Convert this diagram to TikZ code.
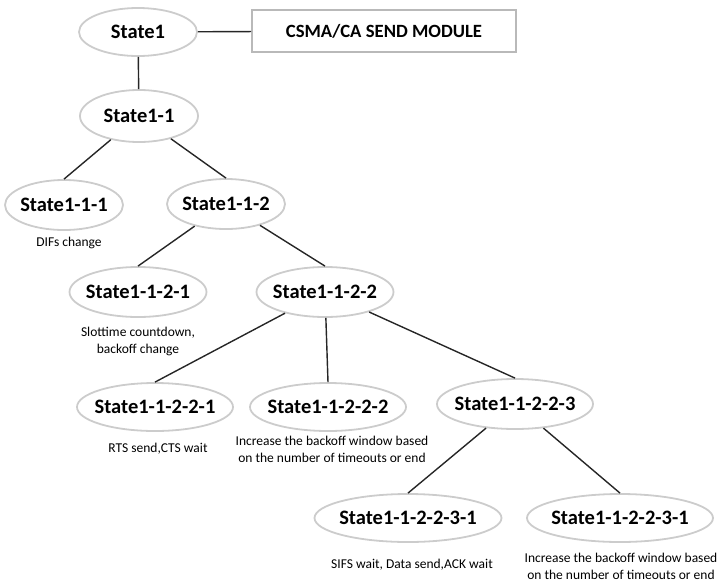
\documentclass[tikz,border=0pt]{standalone}
\usepackage{fontspec}
\setmainfont{Carlito}
\usetikzlibrary{shapes.geometric}

\begin{document}
\begin{tikzpicture}[x=1pt,y=-1pt,
  state/.style={ellipse,draw=gray!40,line width=1.8pt,inner xsep=-12pt,inner ysep=0pt,
    minimum width=118pt,minimum height=50pt,font=\fontsize{20.5}{24}\selectfont\bfseries},
  note/.style={align=center,font=\fontsize{13.5}{17}\selectfont},
  link/.style={line width=1.4pt,black!85}]
  \useasboundingbox (0,0) rectangle (718,582);
  % top of the tree
  \node[state,minimum height=48pt] (s1) at (138,32) {State1};
  \node[draw=gray!55,line width=1.8pt,minimum width=264pt,minimum height=42pt,
    font=\fontsize{18.7}{22}\selectfont\bfseries] (mod) at (384,31) {CSMA/CA SEND MODULE};
  \node[state,minimum height=52pt] (s11) at (139,116) {State1-1};
  \node[state] (s111) at (64,205) {State1-1-1};
  \node[state] (s112) at (226,204) {State1-1-2};
  \node[state,minimum width=137pt] (s1121) at (138,292) {State1-1-2-1};
  \node[state,minimum width=137pt] (s1122) at (325,292) {State1-1-2-2};
  % third level
  \node[state,minimum width=156pt,minimum height=48pt] (s11221) at (155,407) {State1-1-2-2-1};
  \node[state,minimum width=156pt,minimum height=48pt] (s11222) at (328,407) {State1-1-2-2-2};
  \node[state,minimum width=156pt] (s11223) at (515,404) {State1-1-2-2-3};
  \node[state,minimum width=187pt,minimum height=48pt] (s112231) at (408,518) {State1-1-2-2-3-1};
  \node[state,minimum width=186pt,minimum height=48pt] (s112232) at (620,518) {State1-1-2-2-3-1};
  % descriptions
  \node[note] (d111) at (69,243) {DIFs change};
  \node[note] (d1121) at (138,341) {Slottime countdown,\\backoff change};
  \node[note] (d11221) at (158,449) {RTS send,CTS wait};
  \node[note] (d11222) at (332,449) {Increase the backoff window based\\on the number of timeouts or end};
  \node[note] (d112231) at (412,565) {SIFS wait, Data send,ACK wait};
  \node[note] (d112232) at (621,566) {Increase the backoff window based\\on the number of timeouts or end};
  % connectors
  \draw[link] (s1) -- (mod);
  \draw[link] (s1) -- (s11);
  \draw[link] (s11) -- (s111.north);
  \draw[link] (s11) -- (s112.north);
  \draw[link] (s112) -- (s1121.north);
  \draw[link] (s112) -- (s1122.north);
  \draw[link] (s1122) -- (s11221.north);
  \draw[link] (s1122) -- (s11222.north);
  \draw[link] (s1122) -- (s11223.north);
  \draw[link] (s11223) -- (s112231.north);
  \draw[link] (s11223) -- (s112232.north);
\end{tikzpicture}
\end{document}
